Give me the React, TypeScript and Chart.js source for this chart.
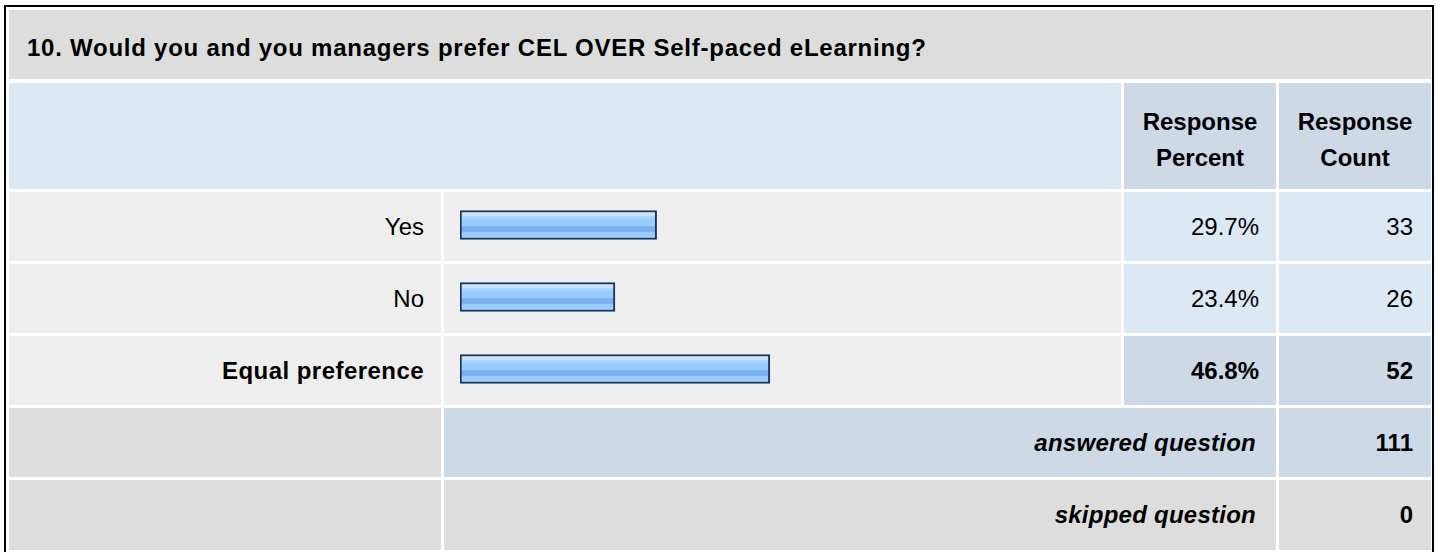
import React, { useEffect, useRef } from "react";
import { Chart, registerables } from "chart.js";

Chart.register(...registerables);

const title = "10. Would you and you managers prefer CEL OVER Self-paced eLearning?";
const categories = ["Yes", "No", "Equal preference"];
const percents = [29.7, 23.4, 46.8];
const counts = [33, 26, 52];
const headerPercent = ["Response", "Percent"];
const headerCount = ["Response", "Count"];
const answeredLabel = "answered question";
const skippedLabel = "skipped question";
const answered = 111;
const skipped = 0;

const FONT = "'Liberation Sans', Arial, Helvetica, sans-serif";
const C_TITLE = "#dddddd";
const C_HEAD_L = "#dde8f5";
const C_HEAD_R = "#cdd9e6";
const C_ROW = "#eeeeee";
const C_VAL = "#dde8f5";
const C_VAL_MAX = "#cdd9e6";

// layout
const COL = [
  [9, 441],
  [444, 1121],
  [1124, 1276],
  [1279, 1431],
];
const TITLE_ROW = [10, 79];
const HEAD_ROW = [83, 189];
const ROW_TOP = 192;
const ROW_STEP = 72;
const ROW_H = 69;

function Cell(props: {
  x0: number; x1: number; y0: number; y1: number; bg: string;
  children?: React.ReactNode; align?: "left" | "right" | "center";
  pl?: number; pr?: number; pt?: number; bold?: boolean; italic?: boolean;
  lineHeight?: string; ls?: number;
}) {
  const { x0, x1, y0, y1, bg, children, align = "right", pl = 0, pr = 0, pt = 0, bold, italic, lineHeight, ls = 0 } = props;
  return (
    <div
      style={{
        position: "absolute",
        left: x0,
        top: y0,
        width: x1 - x0,
        height: y1 - y0,
        background: bg,
        boxSizing: "border-box",
        paddingLeft: pl,
        paddingRight: pr,
        paddingTop: pt,
        display: "flex",
        alignItems: "center",
        justifyContent: align === "left" ? "flex-start" : align === "right" ? "flex-end" : "center",
        textAlign: align,
        fontFamily: FONT,
        fontSize: 24,
        fontWeight: bold ? "bold" : "normal",
        fontStyle: italic ? "italic" : "normal",
        lineHeight: lineHeight || "normal",
        letterSpacing: ls ? ls + "px" : "normal",
        color: "#000",
        whiteSpace: "nowrap",
      }}
    >
      {children}
    </div>
  );
}

function BarChart() {
  const ref = useRef<HTMLCanvasElement | null>(null);
  useEffect(() => {
    if (!ref.current) return;
    const chart = new Chart(ref.current, {
      type: "bar",
      data: {
        labels: categories,
        datasets: [
          {
            data: percents,
            barThickness: 29,
            borderWidth: 2,
            borderSkipped: false,
            borderColor: "#1b3359",
            backgroundColor: (ctx: any) => {
              const ch = ctx.chart;
              const ys = ch.scales && ch.scales.y;
              if (!ys) return "#99ccff";
              const c = ys.getPixelForValue(ctx.dataIndex);
              if (!isFinite(c)) return "#99ccff";
              const top = c - 14.5;
              const g = ch.ctx.createLinearGradient(0, top, 0, top + 29);
              g.addColorStop(0, "#cbe5ff");
              g.addColorStop(0.17, "#c6e2ff");
              g.addColorStop(0.2, "#acd6ff");
              g.addColorStop(0.28, "#a8d3ff");
              g.addColorStop(0.31, "#99ccff");
              g.addColorStop(0.52, "#99ccff");
              g.addColorStop(0.56, "#78b2f0");
              g.addColorStop(0.72, "#78b2f0");
              g.addColorStop(0.76, "#99ccff");
              g.addColorStop(1, "#9dceff");
              return g;
            },
          },
        ],
      },
      options: {
        indexAxis: "y",
        animation: false,
        responsive: false,
        devicePixelRatio: 1,
        layout: { padding: 0 },
        scales: {
          x: { display: false, min: 0, max: 100 },
          y: { display: false },
        },
        plugins: {
          legend: { display: false },
          tooltip: { enabled: false },
        },
      },
    });
    return () => chart.destroy();
  }, []);
  return (
    <canvas
      ref={ref}
      width={662}
      height={216}
      style={{ position: "absolute", left: 460, top: ROW_TOP - 3, width: 662, height: 216 }}
    />
  );
}

export default function App() {
  const maxIdx = percents.indexOf(Math.max(...percents));
  const rowsY = categories.map((_, i) => ROW_TOP + i * ROW_STEP);
  const ansY = ROW_TOP + categories.length * ROW_STEP;
  const skipY = ansY + ROW_STEP;
  return (
    <div
      style={{
        position: "absolute",
        left: 0,
        top: 0,
        width: 1440,
        height: 552,
        overflow: "hidden",
        background: "#fff",
      }}
    >
      <div
        style={{
          position: "absolute",
          left: 4,
          top: 5,
          width: 1430,
          height: 620,
          border: "2px solid #000",
          boxSizing: "border-box",
        }}
      />
      {/* title */}
      <Cell x0={COL[0][0]} x1={COL[3][1]} y0={TITLE_ROW[0]} y1={TITLE_ROW[1]} bg={C_TITLE} align="left" pl={18} pt={6} bold ls={0.75}>
        {title}
      </Cell>
      {/* header */}
      <Cell x0={COL[0][0]} x1={COL[1][1]} y0={HEAD_ROW[0]} y1={HEAD_ROW[1]} bg={C_HEAD_L} />
      <Cell x0={COL[2][0]} x1={COL[2][1]} y0={HEAD_ROW[0]} y1={HEAD_ROW[1]} bg={C_HEAD_R} align="center" bold pt={7} lineHeight="36px">
        <div>
          {headerPercent[0]}
          <br />
          {headerPercent[1]}
        </div>
      </Cell>
      <Cell x0={COL[3][0]} x1={COL[3][1]} y0={HEAD_ROW[0]} y1={HEAD_ROW[1]} bg={C_HEAD_R} align="center" bold pt={7} lineHeight="36px">
        <div>
          {headerCount[0]}
          <br />
          {headerCount[1]}
        </div>
      </Cell>
      {/* answer rows */}
      {categories.map((cat, i) => {
        const y0 = rowsY[i];
        const y1 = y0 + ROW_H;
        const isMax = i === maxIdx;
        return (
          <React.Fragment key={cat}>
            <Cell x0={COL[0][0]} x1={COL[0][1]} y0={y0} y1={y1} bg={C_ROW} pr={17} bold={isMax} ls={isMax ? 0.45 : 0}>
              {cat}
            </Cell>
            <Cell x0={COL[1][0]} x1={COL[1][1]} y0={y0} y1={y1} bg={C_ROW} />
            <Cell x0={COL[2][0]} x1={COL[2][1]} y0={y0} y1={y1} bg={isMax ? C_VAL_MAX : C_VAL} pr={17} bold={isMax}>
              {percents[i].toFixed(1) + "%"}
            </Cell>
            <Cell x0={COL[3][0]} x1={COL[3][1]} y0={y0} y1={y1} bg={isMax ? C_VAL_MAX : C_VAL} pr={18} bold={isMax}>
              {String(counts[i])}
            </Cell>
          </React.Fragment>
        );
      })}
      {/* answered */}
      <Cell x0={COL[0][0]} x1={COL[0][1]} y0={ansY} y1={ansY + ROW_H} bg={C_TITLE} />
      <Cell x0={COL[1][0]} x1={COL[2][1]} y0={ansY} y1={ansY + ROW_H} bg={C_HEAD_R} pr={20} bold italic ls={0.25}>
        {answeredLabel}
      </Cell>
      <Cell x0={COL[3][0]} x1={COL[3][1]} y0={ansY} y1={ansY + ROW_H} bg={C_HEAD_R} pr={18} bold>
        {String(answered)}
      </Cell>
      {/* skipped */}
      <Cell x0={COL[0][0]} x1={COL[0][1]} y0={skipY} y1={skipY + ROW_H + 1} bg={C_TITLE} />
      <Cell x0={COL[1][0]} x1={COL[2][1]} y0={skipY} y1={skipY + ROW_H + 1} bg={C_TITLE} pr={20} bold italic ls={0.25}>
        {skippedLabel}
      </Cell>
      <Cell x0={COL[3][0]} x1={COL[3][1]} y0={skipY} y1={skipY + ROW_H + 1} bg={C_TITLE} pr={18} bold>
        {String(skipped)}
      </Cell>
      <BarChart />
    </div>
  );
}
